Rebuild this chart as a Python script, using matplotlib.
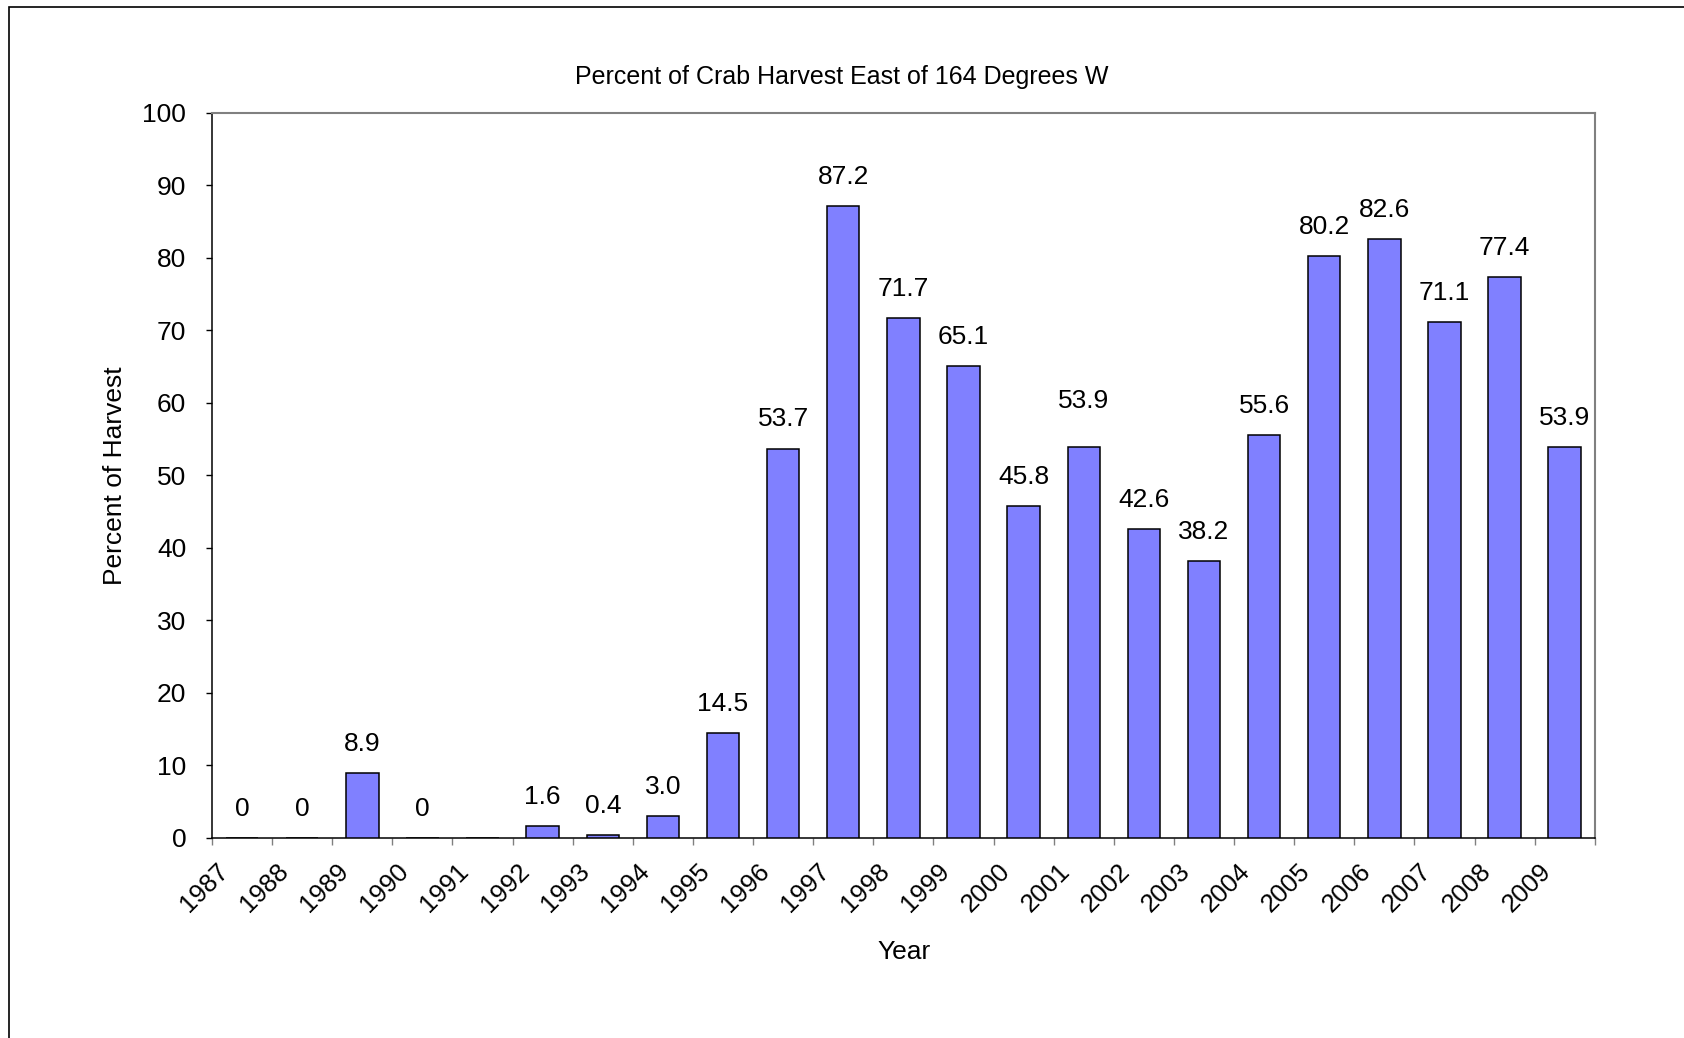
import matplotlib.pyplot as plt
import numpy as np
from matplotlib.patches import Rectangle
from matplotlib.transforms import ScaledTranslation

plt.rcParams['font.family'] = ['Liberation Sans', 'DejaVu Sans']

# data
years = ['1987', '1988', '1989', '1990', '1991', '1992', '1993', '1994', '1995', '1996',
         '1997', '1998', '1999', '2000', '2001', '2002', '2003', '2004', '2005', '2006',
         '2007', '2008', '2009']
percent = [0, 0, 8.9, 0, 0, 1.6, 0.4, 3.0, 14.5, 53.7,
           87.2, 71.7, 65.1, 45.8, 53.9, 42.6, 38.2, 55.6, 80.2, 82.6,
           71.1, 77.4, 53.9]
labels = ['0', '0', '8.9', '0', '', '1.6', '0.4', '3.0', '14.5', '53.7',
          '87.2', '71.7', '65.1', '45.8', '53.9', '42.6', '38.2', '55.6', '80.2', '82.6',
          '71.1', '77.4', '53.9']

fs = 19

fig = plt.figure(figsize=(16.84, 10.38), dpi=100)
ax = fig.add_axes([0.1259, 0.1927, 0.8211, 0.6985])

x = np.arange(len(years))
ax.bar(x, percent, width=0.54, color='#8080FF', edgecolor='black', linewidth=1.1, zorder=3)

# data labels
for i, (v, lab) in enumerate(zip(percent, labels)):
    if lab == '':
        continue
    off = 21
    if i == 14:
        off = 33  # this one sits higher in the original
    ax.annotate(lab, (i, v), xytext=(0, off), textcoords='offset points',
                ha='center', va='center', fontsize=fs)

ax.set_xlim(-0.5, len(years) - 0.5)
ax.set_ylim(0, 100)
ax.set_yticks(range(0, 101, 10))
ax.tick_params(axis='y', direction='out', length=4.5, width=1, pad=14, labelsize=fs)

# ticks at category boundaries, labels at centres
ax.set_xticks(np.arange(-0.5, len(years), 1.0))
ax.set_xticklabels([])
ax.tick_params(axis='x', which='major', direction='out', length=5, width=1, color='#808080')
ax.set_xticks(x, minor=True)
ax.set_xticklabels(years, minor=True, rotation=45, ha='right', va='top', fontsize=18.5)
ax.tick_params(axis='x', which='minor', length=0, pad=15)
shift = ScaledTranslation(-0.09, 0, fig.dpi_scale_trans)
for t in ax.get_xticklabels(minor=True):
    t.set_transform(t.get_transform() + shift)

for s in ['top', 'right']:
    ax.spines[s].set_color('#808080')
    ax.spines[s].set_linewidth(1.5)
for s in ['left', 'bottom']:
    ax.spines[s].set_color('black')
    ax.spines[s].set_linewidth(1.1)

fig.text(0.5, 1 - 77 / 1038, 'Percent of Crab Harvest East of 164 Degrees W',
         ha='center', va='center', fontsize=18)
fig.text(904 / 1684, 1 - 952 / 1038, 'Year', ha='center', va='center', fontsize=fs)
fig.text(115 / 1684, 1 - 476 / 1038, 'Percent of Harvest', ha='center', va='center',
         rotation=90, fontsize=fs)

# chart area border
fig.patches.append(Rectangle((8.5 / 1684, -0.1), 1.2, 1.1 - 7 / 1038, transform=fig.transFigure,
                             fill=False, edgecolor='black', linewidth=1.2))

fig.savefig('out.png', dpi=100)
